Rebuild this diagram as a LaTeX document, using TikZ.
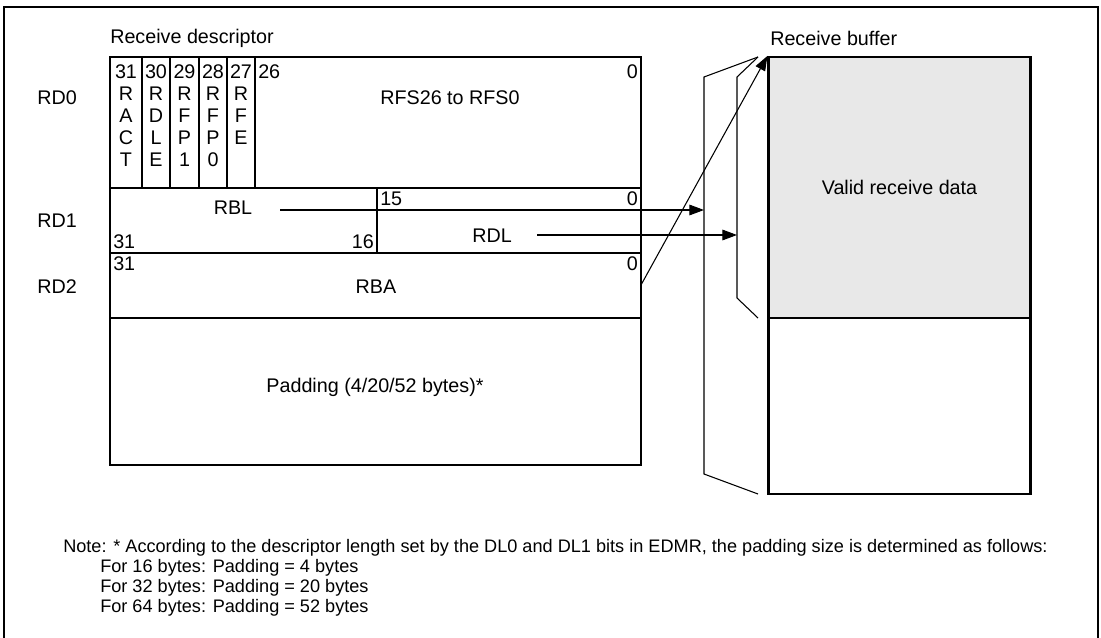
\documentclass[tikz,border=0pt]{standalone}
\usepackage{fontspec}
\setmainfont{Liberation Sans}
\usetikzlibrary{arrows.meta}
\tikzset{
  thin line/.style={line width=0.9pt},
  thick line/.style={line width=1.6pt},
  arr/.style={line width=0.8pt, -{Triangle[length=11pt, width=8pt]}},
  lbl/.style={inner sep=0pt},
  notetext/.style={inner sep=0pt, anchor=west, font={\fontsize{13.6}{15}\selectfont}}
}
\begin{document}
\begin{tikzpicture}[x=0.75pt, y=-0.75pt, font={\fontsize{14.8}{16.5}\selectfont}]
  \useasboundingbox (0,0) rectangle (1101,638);
  \draw[line width=1.9pt] (4,640) -- (4,7) -- (1098,7) -- (1098,640);

  % descriptor
  \node[lbl, anchor=west] (rdtitle) at (110,38) {Receive descriptor};
  \node[lbl] (rd0) at (57,98) {RD0};
  \node[lbl] (rd1) at (57,221) {RD1};
  \node[lbl] (rd2) at (57,287) {RD2};

  \draw[thin line] (110,188) -- (641,188);
  \draw[thin line] (110,253) -- (641,253);
  \draw[thin line] (110,318) -- (641,318);
  \foreach \x in {142,170,199,227,255}
    \draw[thin line] (\x,57) -- (\x,188);
  \draw[thin line] (377,188) -- (377,253);
  \draw[thick line] (110,57) rectangle (641,465);

  \foreach \x/\t in {126/{31\\R\\A\\C\\T}, 156/{30\\R\\D\\L\\E}, 184.5/{29\\R\\F\\P\\1},
                     213/{28\\R\\F\\P\\0}, 241/{27\\R\\F\\E}}
    \node[lbl, anchor=north, align=center] at (\x,64) {\t};
  \node[lbl, anchor=west] (b26) at (258,72) {26};
  \node[lbl, anchor=east] (b0a) at (638,72) {0};
  \node[lbl] (rfs) at (450,98) {RFS26 to RFS0};

  \node[lbl] (rbl) at (233,208) {RBL};
  \node[lbl, anchor=west] (b15) at (380,199) {15};
  \node[lbl, anchor=east] (b0b) at (638,199) {0};
  \node[lbl, anchor=west] (b31a) at (113,242) {31};
  \node[lbl, anchor=east] (b16) at (374,242) {16};
  \node[lbl] (rdl) at (492,236) {RDL};

  \node[lbl, anchor=west] (b31b) at (113,264) {31};
  \node[lbl, anchor=east] (b0c) at (638,264) {0};
  \node[lbl] (rba) at (376,287) {RBA};
  \node[lbl] (pad) at (375,387) {Padding (4/20/52 bytes)*};

  % buffer
  \node[lbl, anchor=west] (bftitle) at (770,38) {Receive buffer};
  \node[draw, thick line, fill=gray!18, minimum width=196.5pt, minimum height=195.75pt] (valid) at (899.5,187.5) {Valid receive data};
  \node[draw, thick line, minimum width=196.5pt, minimum height=132pt] (rest) at (899.5,406) {};

  \coordinate (tip) at (758,57);
  \coordinate (o1) at (704,77);
  \coordinate (o2) at (704,474);
  \coordinate (o3) at (758,494);
  \coordinate (i1) at (737,77);
  \coordinate (i2) at (737,298);
  \coordinate (i3) at (758,318);
  \draw[line width=0.8pt] (tip) -- (o1) -- (o2) -- (o3);
  \draw[line width=0.8pt] (tip) -- (i1) -- (i2) -- (i3);

  \coordinate (rblout) at (280,210);
  \coordinate (rdlout) at (537,235);
  \coordinate (rbaout) at (641,285);
  \draw[arr] (rblout) -- (rblout -| o1);
  \draw[arr] (rdlout) -- (rdlout -| i1);
  \draw[arr] (rbaout) -- (valid.north west);

  % note
  \node[notetext] (note) at (63,548) {Note: * According to the descriptor length set by the DL0 and DL1 bits in EDMR, the padding size is determined as follows:};
  \node[notetext] (n16) at (100,568) {For 16 bytes: Padding = 4 bytes};
  \node[notetext] (n32) at (100,588) {For 32 bytes: Padding = 20 bytes};
  \node[notetext] (n64) at (100,608) {For 64 bytes: Padding = 52 bytes};
\end{tikzpicture}
\end{document}
